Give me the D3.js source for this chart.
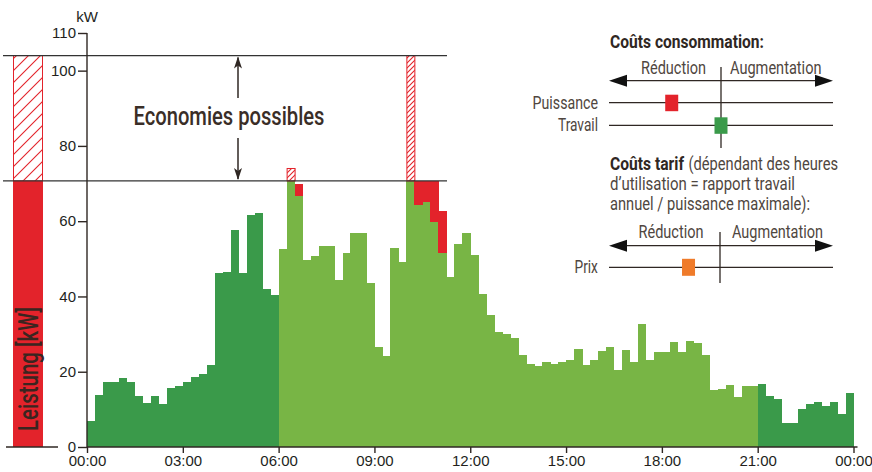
<!DOCTYPE html>
<html><head><meta charset="utf-8">
<script src="https://cdnjs.cloudflare.com/ajax/libs/d3/7.8.5/d3.min.js"></script>
<style>
body{margin:0;background:#fff;}
svg{display:block;}
.narrow{font-family:Roboto,"DejaVu Sans Condensed",sans-serif;}
.axis text{font-family:"Liberation Sans",Arial,sans-serif;font-size:15px;fill:#231f1c;}
</style></head>
<body>
<svg id="c" width="872" height="472"></svg>
<script>
// ---- data ----
const tickLabels = ["00:00","03:00","06:00","09:00","12:00","15:00","18:00","21:00","00:00"];
const tickHours = [0,3,6,9,12,15,18,21,24];
const yTicks = [0,20,40,60,80,100,110];
// 15-minute power values (kW), 96 intervals
const power = [
 6.9,13.8,17.4,17.4,18.4,17.4,13.6,11.6,13.6,11.3,15.6,16.3,
 17.3,18.7,19.5,21.8,46.2,46.5,57.6,46.3,61.6,62.2,41.9,40.4,
 52.5,70.7,66.8,49.7,50.7,53.4,53.4,44.4,51.5,56.8,56.8,43.5,
 26.6,24.2,52.8,49.2,70.7,64.3,65.2,59.9,51.6,45.2,53.9,56.8,
 51.0,40.6,35.1,30.6,30.1,29.0,24.4,22.1,21.5,22.6,22.0,22.6,
 23.1,26.0,21.7,23.0,25.5,26.6,20.5,25.7,22.5,32.6,23.0,25.2,
 25.2,27.9,25.2,28.2,27.7,24.4,15.1,15.4,16.4,13.4,16.2,16.2,
 16.7,13.6,12.8,6.3,6.3,10.2,11.3,11.9,10.9,11.9,8.9,14.3
];
// off-peak (dark) intervals vs peak-period (light) intervals
const lowTariffRanges = [[0,24],[84,96]];
// shaved peaks (red) above the green bar
const peakIndex = [26,41,42,43,44];
const peakTop   = [69.9,70.7,70.7,70.7,62.7];
// exceedances above the limit (hatched)
const hatchIndex = [25,40];
const hatchTop   = [74,104];
const limitLevel = 70.7;
const maxLevel = 104;
// legend markers (relative position, -1 .. 1)
const consoLabels = ["Puissance","Travail"];
const consoValues = [-0.44, 0.0];
const consoColors = ["#e3232b","#3a9a4a"];
const tarifLabels = ["Prix"];
const tarifValues = [-0.29];
const tarifColors = ["#ef7b2a"];

// ---- drawing ----
const svg = d3.select("#c");
const darkGreen="#3a9a4a", lightGreen="#78b545", red="#e3232b", ink="#2f2723", gray="#4f4640";
const x = d3.scaleLinear().domain([0,24]).range([87,853.5]);
const y = d3.scaleLinear().domain([0,110]).range([447,33]);
const bw = (x(24)-x(0))/96;

const defs = svg.append("defs");
function hatch(id,s){
  const p = defs.append("pattern").attr("id",id).attr("patternUnits","userSpaceOnUse")
    .attr("width",s).attr("height",s);
  p.append("rect").attr("width",s).attr("height",s).attr("fill","#fff");
  p.append("path").attr("d",`M0,${s} L${s},0 M${-s/2},${s/2} L${s/2},${-s/2} M${s/2},${s*1.5} L${s*1.5},${s/2}`)
    .attr("stroke",red).attr("stroke-width",1.1);
}
hatch("hw",12); hatch("hn",5);

const isLow = i => lowTariffRanges.some(r => i>=r[0] && i<r[1]);

// bars
svg.append("g").attr("shape-rendering","crispEdges").selectAll("rect").data(power).join("rect")
  .attr("x",(d,i)=>x(i/4)).attr("width",bw+0.5)
  .attr("y",d=>y(d)).attr("height",d=>y(0)-y(d))
  .attr("fill",(d,i)=>isLow(i)?darkGreen:lightGreen);

// red peak parts
svg.append("g").attr("shape-rendering","crispEdges").selectAll("rect").data(peakIndex).join("rect")
  .attr("x",d=>x(d/4)).attr("width",bw+0.5)
  .attr("y",(d,k)=>y(peakTop[k])).attr("height",(d,k)=>y(power[d])-y(peakTop[k]))
  .attr("fill",red);

// hatched exceedances
svg.append("g").selectAll("rect").data(hatchIndex).join("rect")
  .attr("x",d=>x(d/4)+0.5).attr("width",bw)
  .attr("y",(d,k)=>y(hatchTop[k])).attr("height",(d,k)=>y(limitLevel)-y(hatchTop[k]))
  .attr("fill","url(#hn)").attr("stroke",red).attr("stroke-width",1);

// left reference bar
const lb = {x0:13, x1:43};
svg.append("rect").attr("x",lb.x0).attr("width",lb.x1-lb.x0).attr("y",y(limitLevel)).attr("height",y(0)-y(limitLevel)).attr("fill",red);
svg.append("rect").attr("x",lb.x0+0.5).attr("width",lb.x1-lb.x0-1).attr("y",y(maxLevel)).attr("height",y(limitLevel)-y(maxLevel))
  .attr("fill","url(#hw)").attr("stroke",red).attr("stroke-width",1);
svg.append("text").attr("class","narrow").attr("transform",`translate(37.5,${y(0)-16}) rotate(-90)`)
  .attr("font-size",27).attr("font-weight",500).attr("fill","#3a2520").attr("textLength",124).attr("lengthAdjust","spacingAndGlyphs")
  .text("Leistung [kW]");
svg.append("line").attr("x1",6).attr("x2",58).attr("y1",y(0)).attr("y2",y(0)).attr("stroke",ink).attr("stroke-width",1.3);

// horizontal limit lines
[maxLevel,limitLevel].forEach(v=>{
  svg.append("line").attr("x1",3).attr("x2",447).attr("y1",y(v)).attr("y2",y(v)).attr("stroke","#333").attr("stroke-width",1.3);
});

// arrows for "Economies possibles"
const ax = 238;
function arrowHead(g,xc,yc,dir){ // dir: -1 up, 1 down
  g.append("path").attr("d",`M${xc},${yc} L${xc-4},${yc-dir*12} L${xc},${yc-dir*9} L${xc+4},${yc-dir*12} Z`).attr("fill",ink);
}
svg.append("line").attr("x1",ax).attr("x2",ax).attr("y1",y(maxLevel)+2).attr("y2",98).attr("stroke",ink).attr("stroke-width",1.5);
arrowHead(svg,ax,y(maxLevel)+1,-1);
svg.append("line").attr("x1",ax).attr("x2",ax).attr("y1",138).attr("y2",y(limitLevel)-2).attr("stroke",ink).attr("stroke-width",1.5);
arrowHead(svg,ax,y(limitLevel)-1,1);
svg.append("text").attr("class","narrow").attr("x",133.5).attr("y",124.5)
  .attr("font-size",25).attr("font-weight",500).attr("fill","#3a2e27").attr("textLength",191).attr("lengthAdjust","spacingAndGlyphs")
  .text("Economies possibles");

// axes
const yAxis = svg.append("g").attr("class","axis").attr("transform",`translate(${x(0)},0)`)
  .call(d3.axisLeft(y).tickValues(yTicks).tickSize(9).tickPadding(2).tickFormat(d3.format("d")));
yAxis.select(".domain").attr("d",`M0,${y(0)}V${y(110)}`);
const xAxis = svg.append("g").attr("class","axis").attr("transform",`translate(0,${y(0)})`)
  .call(d3.axisBottom(x).tickValues(tickHours).tickSize(6).tickPadding(2).tickFormat((d,i)=>tickLabels[i]));
xAxis.select(".domain").attr("d",`M${x(0)},0H${x(24)+4}`);
svg.selectAll(".axis path, .axis line").attr("stroke",ink).attr("stroke-width",1.4);
svg.append("text").attr("x",x(0)).attr("y",22).attr("text-anchor","middle")
  .attr("font-family","Liberation Sans, Arial, sans-serif").attr("font-size",15).attr("fill","#231f1c").text("kW");

// legend
const lx = d3.scaleLinear().domain([-1,1]).range([609,833]);
function biArrow(yc){
  svg.append("line").attr("x1",lx(-1)+10).attr("x2",lx(1)-10).attr("y1",yc).attr("y2",yc).attr("stroke",ink).attr("stroke-width",1.3);
  svg.append("path").attr("d",`M${lx(-1)},${yc} L${lx(-1)+18},${yc-6} L${lx(-1)+18},${yc+6}Z`).attr("fill","#111");
  svg.append("path").attr("d",`M${lx(1)},${yc} L${lx(1)-18},${yc-6} L${lx(1)-18},${yc+6}Z`).attr("fill","#111");
}
// text placed by left edge x and width w
function legText(t,xx,yy,w,opts={}){
  return svg.append("text").attr("class","narrow").attr("x",xx).attr("y",yy)
    .attr("font-size",opts.size||18).attr("fill",opts.fill||gray).attr("font-weight",opts.weight||"normal")
    .attr("textLength",w).attr("lengthAdjust","spacingAndGlyphs").text(t);
}
legText("Coûts consommation:",610,48,154,{weight:"bold",fill:ink});
legText("Réduction",641,74,65);
legText("Augmentation",730,74,91.5);
biArrow(80.7);
svg.append("line").attr("x1",lx(0)).attr("x2",lx(0)).attr("y1",67).attr("y2",148).attr("stroke",ink).attr("stroke-width",1.3);
const rowY1 = [102.7,125.3];
const consoW = [65.4,40];
consoLabels.forEach((l,k)=>{
  svg.append("line").attr("x1",lx(-1)).attr("x2",lx(1)).attr("y1",rowY1[k]).attr("y2",rowY1[k]).attr("stroke",ink).attr("stroke-width",1.3);
  legText(l,598-consoW[k],rowY1[k]+6,consoW[k]);
  svg.append("rect").attr("x",lx(consoValues[k])-6.5).attr("y",rowY1[k]-8).attr("width",13).attr("height",16.5).attr("fill",consoColors[k]);
});
legText("Coûts tarif",610,170,74,{weight:"bold",fill:ink});
legText("(dépendant des heures",688.5,170,149.5);
legText("d’utilisation = rapport travail",610,190,185);
legText("annuel / puissance maximale):",610,209.5,200);
legText("Réduction",638.5,237.5,65);
legText("Augmentation",732,237.5,91);
biArrow(245.7);
svg.append("line").attr("x1",lx(0)-1).attr("x2",lx(0)-1).attr("y1",232).attr("y2",283).attr("stroke",ink).attr("stroke-width",1.3);
const rowY2 = [267.3];
tarifLabels.forEach((l,k)=>{
  svg.append("line").attr("x1",lx(-1)).attr("x2",lx(1)).attr("y1",rowY2[k]).attr("y2",rowY2[k]).attr("stroke",ink).attr("stroke-width",1.3);
  legText(l,574.5,rowY2[k]+6,23.4);
  svg.append("rect").attr("x",lx(tarifValues[k])-6.5).attr("y",rowY2[k]-8.5).attr("width",13).attr("height",17).attr("fill",tarifColors[k]);
});
</script>
</body></html>
